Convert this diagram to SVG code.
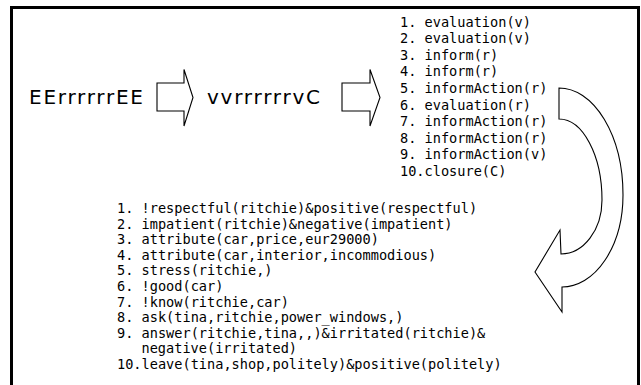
<svg xmlns="http://www.w3.org/2000/svg" width="641" height="385" viewBox="0 0 641 385">
  <style>
    .frame { fill: none; stroke: #000; stroke-width: 3; }
    .shape { fill: #fff; stroke: #000; stroke-width: 1.1; stroke-linejoin: miter; }
    .seq { font-family: "DejaVu Sans", "Liberation Sans", sans-serif; font-size: 20px; fill: #000; }
    .list { font-family: "DejaVu Sans Mono", "Liberation Mono", monospace; font-size: 13.6px; fill: #000; }
  </style>

  <rect x="0" y="0" width="641" height="385" fill="#fff"/>
  <!-- outer frame: open at the bottom -->
  <path class="frame" d="M11.5,390 V7.5 H638.5 V390"/>

  <g id="seq-symbols">
    <text class="seq" x="29" y="104" textLength="114" lengthAdjust="spacing">EErrrrrrEE</text>
  </g>

  <g id="seq-moves">
    <text class="seq" x="207" y="104" textLength="113" lengthAdjust="spacing">vvrrrrrrvC</text>
  </g>

  <g id="acts">
    <text class="list">
      <tspan x="400" y="26.5">1. evaluation(v)</tspan>
      <tspan x="400" dy="16.6">2. evaluation(v)</tspan>
      <tspan x="400" dy="16.6">3. inform(r)</tspan>
      <tspan x="400" dy="16.6">4. inform(r)</tspan>
      <tspan x="400" dy="16.6">5. informAction(r)</tspan>
      <tspan x="400" dy="16.6">6. evaluation(r)</tspan>
      <tspan x="400" dy="16.6">7. informAction(r)</tspan>
      <tspan x="400" dy="16.6">8. informAction(r)</tspan>
      <tspan x="400" dy="16.6">9. informAction(v)</tspan>
      <tspan x="400" dy="16.6">10.closure(C)</tspan>
    </text>
  </g>

  <g id="predicates">
    <text class="list">
      <tspan x="117" y="213">1. !respectful(ritchie)&amp;positive(respectful)</tspan>
      <tspan x="117" dy="15.6">2. impatient(ritchie)&amp;negative(impatient)</tspan>
      <tspan x="117" dy="15.6">3. attribute(car,price,eur29000)</tspan>
      <tspan x="117" dy="15.6">4. attribute(car,interior,incommodious)</tspan>
      <tspan x="117" dy="15.6">5. stress(ritchie,)</tspan>
      <tspan x="117" dy="15.6">6. !good(car)</tspan>
      <tspan x="117" dy="15.6">7. !know(ritchie,car)</tspan>
      <tspan x="117" dy="15.6">8. ask(tina,ritchie,power_windows,)</tspan>
      <tspan x="117" dy="15.6">9. answer(ritchie,tina,,)&amp;irritated(ritchie)&amp;</tspan>
      <tspan x="141.5" dy="15.6">negative(irritated)</tspan>
      <tspan x="117" dy="15.6">10.leave(tina,shop,politely)&amp;positive(politely)</tspan>
    </text>
  </g>

  <g id="connectors">
    <!-- block arrow: symbols to moves -->
    <polygon class="shape" points="157,83 184,83 184,69.5 193,97.5 184,126 184,111 157,111"/>
    <!-- block arrow: moves to acts -->
    <polygon class="shape" points="342,83 370,83 370,69.5 380,97.5 370,126 370,111 342,111"/>
    <!-- curved block arrow: acts to predicates -->
    <path class="shape" d="M559,88 A64,107 0 0 1 623,195 A61,92 0 0 1 562,287 L562,312 L535,272 L560,230 L561,254 A41,54 0 0 0 602,200 A43,81 0 0 0 559,119 Z"/>
  </g>
</svg>
